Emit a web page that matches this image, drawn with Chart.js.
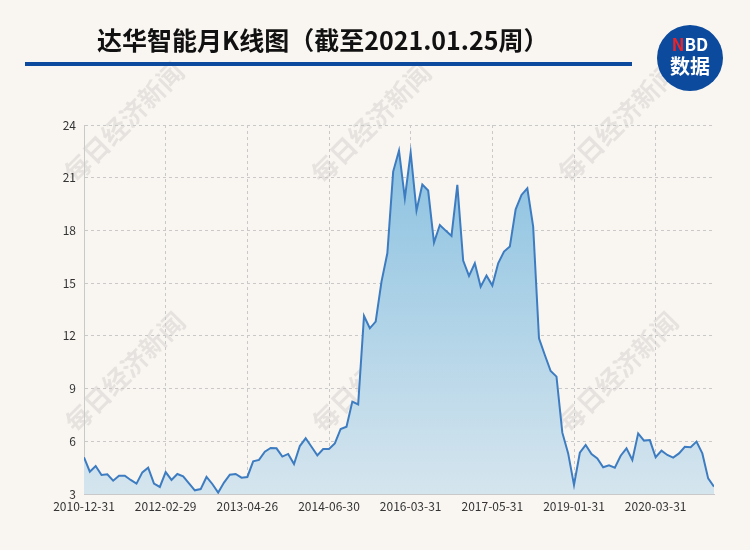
<!DOCTYPE html>
<html>
<head>
<meta charset="utf-8">
<script src="https://cdn.jsdelivr.net/npm/chart.js@4"></script>
<style>
  html, body { margin: 0; padding: 0; background: #f9f6f2; }
  #wrap { position: relative; width: 750px; height: 550px; overflow: hidden; }
  #chart { position: absolute; left: 0; top: 0; }
  .title { position: absolute; left: 97px; top: 21px; font: bold 25px "Noto Sans CJK SC", sans-serif; color: #111; white-space: nowrap; }
  .rule { position: absolute; left: 25px; top: 62px; width: 607px; height: 4px; background: #0b4a9c; }
  .logo { position: absolute; left: 657px; top: 25px; width: 66px; height: 66px; border-radius: 50%; background: #0b4a9c;
          color: #fff; text-align: center; font-family: "Noto Sans CJK SC", sans-serif; font-weight: bold; }
  .logo .nbd { position: absolute; left: 0; right: 0; top: 10px; font-size: 17px; line-height: 18px; }
  .logo .nbd span { color: #e8242b; }
  .logo .sj { position: absolute; left: 0; right: 0; top: 30px; font-size: 20px; line-height: 22px; }
</style>
</head>
<body>
<div id="wrap">
  <canvas id="chart" width="750" height="550"></canvas>
  <div class="title">达华智能月K线图（截至2021.01.25周）</div>
  <div class="rule"></div>
  <div class="logo"><div class="nbd"><span>N</span>BD</div><div class="sj">数据</div></div>
</div>
<script>
// monthly close
var closes = [
  5.09, 4.27, 4.59, 4.08, 4.12, 3.76, 4.04, 4.04, 3.80, 3.59,
  4.23, 4.50, 3.59, 3.40, 4.25, 3.80, 4.14, 4.01, 3.61, 3.21,
  3.28, 3.97, 3.57, 3.08, 3.65, 4.10, 4.14, 3.93, 3.97, 4.86,
  4.94, 5.41, 5.62, 5.60, 5.13, 5.28, 4.71, 5.73, 6.17, 5.69,
  5.20, 5.56, 5.56, 5.88, 6.70, 6.83, 8.26, 8.10, 13.13, 12.43,
  12.81, 15.09, 16.70, 21.35, 22.54, 19.83, 22.43, 19.13, 20.61, 20.27,
  17.31, 18.31, 17.99, 17.69, 20.59, 16.28, 15.41, 16.13, 14.80, 15.43,
  14.86, 16.13, 16.80, 17.08, 19.20, 20.02, 20.40, 18.22, 11.86, 10.91,
  10.00, 9.68, 6.49, 5.31, 3.51, 5.35, 5.79, 5.28, 5.03, 4.52,
  4.63, 4.50, 5.18, 5.60, 4.94, 6.45, 6.04, 6.07, 5.09, 5.47,
  5.22, 5.07, 5.31, 5.69, 5.66, 5.98, 5.31, 3.89, 3.42
];
// x tick labels, one every 14 points
var tickLabels = ['2010-12-31', '2012-02-29', '2013-04-26', '2014-06-30', '2016-03-31', '2017-05-31', '2019-01-31', '2020-03-31'];
var tickStep = 14;
var yTicks = [3, 6, 9, 12, 15, 18, 21, 24];

var GRID = '#c9c9c9';
var LINE = '#3d7cc0';
var FONT = '"Noto Sans CJK SC", sans-serif';

var watermark = {
  id: 'watermark',
  beforeDraw: function(chart) {
    var ctx = chart.ctx;
    var spots = [[124, 122], [371, 123], [618, 122], [125, 372], [372, 372], [618, 372]];
    ctx.save();
    ctx.font = 'bold 26px ' + FONT;
    ctx.fillStyle = 'rgba(0,0,0,0.08)';
    ctx.textAlign = 'center';
    ctx.textBaseline = 'middle';
    spots.forEach(function(p) {
      ctx.save();
      ctx.translate(p[0], p[1]);
      ctx.rotate(-Math.PI / 4);
      ctx.fillText('每日经济新闻', 0, 0);
      ctx.restore();
    });
    ctx.restore();
  }
};

new Chart(document.getElementById('chart').getContext('2d'), {
  type: 'line',
  data: {
    datasets: [{
      data: closes.map(function(v, i) { return { x: i, y: v }; }),
      borderColor: LINE,
      borderWidth: 2,
      pointRadius: 0,
      tension: 0,
      fill: 'start',
      backgroundColor: function(c) {
        var area = c.chart.chartArea;
        if (!area) return 'rgba(140,195,225,0.6)';
        var g = c.chart.ctx.createLinearGradient(0, area.top, 0, area.bottom);
        g.addColorStop(0, '#86bfe0');
        g.addColorStop(1, '#d5e5ee');
        return g;
      }
    }]
  },
  options: {
    responsive: false,
    animation: false,
    events: [],
    layout: { padding: { top: 125, right: 36, bottom: 0, left: 0 } },
    plugins: { legend: { display: false }, tooltip: { enabled: false } },
    scales: {
      x: {
        type: 'linear',
        min: 0,
        max: closes.length - 1,
        afterFit: function(s) { s.height = 56; },
        grid: { color: GRID, drawTicks: false },
        border: { display: true, color: GRID, width: 1, dash: [3, 3] },
        ticks: {
          stepSize: tickStep,
          includeBounds: false,
          autoSkip: false,
          maxRotation: 0,
          padding: 5,
          color: '#333',
          font: { family: FONT, size: 12 },
          callback: function(v) { return tickLabels[Math.round(v / tickStep)] || ''; }
        }
      },
      y: {
        min: yTicks[0],
        max: yTicks[yTicks.length - 1],
        afterFit: function(s) { s.width = 84; },
        grid: { color: GRID, drawTicks: false },
        border: { display: true, color: GRID, width: 1, dash: [3, 3] },
        ticks: {
          stepSize: 3,
          padding: 8,
          color: '#333',
          font: { family: FONT, size: 12 }
        }
      }
    }
  },
  plugins: [watermark]
});
</script>
</body>
</html>
